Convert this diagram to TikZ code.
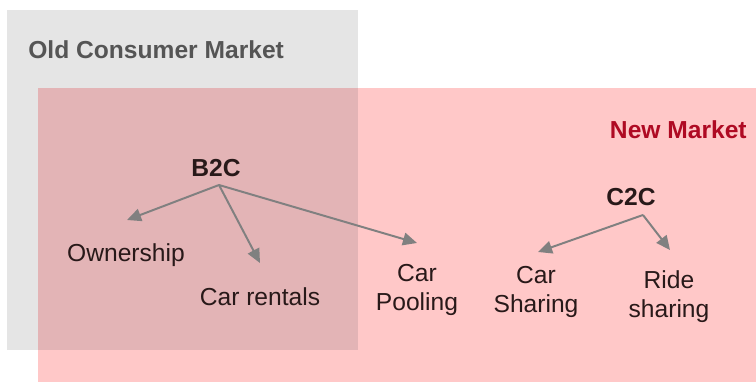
\documentclass[tikz,border=0pt]{standalone}
\usepackage{fontspec}
\setmainfont{Liberation Sans}
\usetikzlibrary{arrows.meta}
\definecolor{oldgray}{RGB}{229,229,229}
\definecolor{newpink}{RGB}{255,200,200}
\definecolor{bothpink}{RGB}{227,180,182}
\definecolor{arrowgray}{RGB}{128,128,128}
\definecolor{labeldark}{RGB}{40,25,25}
\definecolor{oldtitle}{RGB}{85,85,85}
\definecolor{newtitle}{RGB}{175,10,35}
\begin{document}
\begin{tikzpicture}[
  lbl/.style={font=\fontsize{17.5}{20.6}\selectfont,text=labeldark,align=center,inner sep=0pt},
  head/.style={lbl,font=\fontsize{17.5}{20.6}\selectfont\bfseries},
  branch/.style={draw=arrowgray,line width=1.4pt,-{Triangle[length=10pt,width=9pt]}}]
\useasboundingbox (0,0) rectangle (18.9,9.55);
% market areas
\fill[oldgray](0.175,0.8) rectangle (8.95,9.3);
\fill[newpink](0.95,0) rectangle (18.9,7.35);
\fill[bothpink](0.95,0.8) rectangle (8.95,7.35);
\node[head,text=oldtitle,anchor=west] (oldmkt) at (0.7,8.3) {Old Consumer Market};
\node[head,text=newtitle,anchor=east] (newmkt) at (18.675,6.3) {New Market};
% B2C branch
\node[head] (b2c) at (5.4,5.35) {B2C};
\node[lbl] (own) at (3.15,3.175) {Ownership};
\node[lbl] (rent) at (6.5,2.125) {Car rentals};
\node[lbl] (pool) at (10.425,2.3) {Car\\Pooling};
\coordinate (b2cfork) at (5.475,4.925);
\coordinate (owntip) at (3.175,4.05);
\coordinate (renttip) at (6.5,2.975);
\coordinate (pooltip) at (10.425,3.475);
\draw[branch](b2cfork)--(owntip);
\draw[branch](b2cfork)--(renttip);
\draw[branch](b2cfork)--(pooltip);
% C2C branch
\node[head] (c2c) at (15.775,4.625) {C2C};
\node[lbl] (share) at (13.4,2.25) {Car\\Sharing};
\node[lbl] (ride) at (16.725,2.125) {Ride\\sharing};
\coordinate (c2cfork) at (16.075,4.175);
\coordinate (sharetip) at (13.45,3.25);
\coordinate (ridetip) at (16.75,3.3);
\draw[branch](c2cfork)--(sharetip);
\draw[branch](c2cfork)--(ridetip);
\end{tikzpicture}
\end{document}
